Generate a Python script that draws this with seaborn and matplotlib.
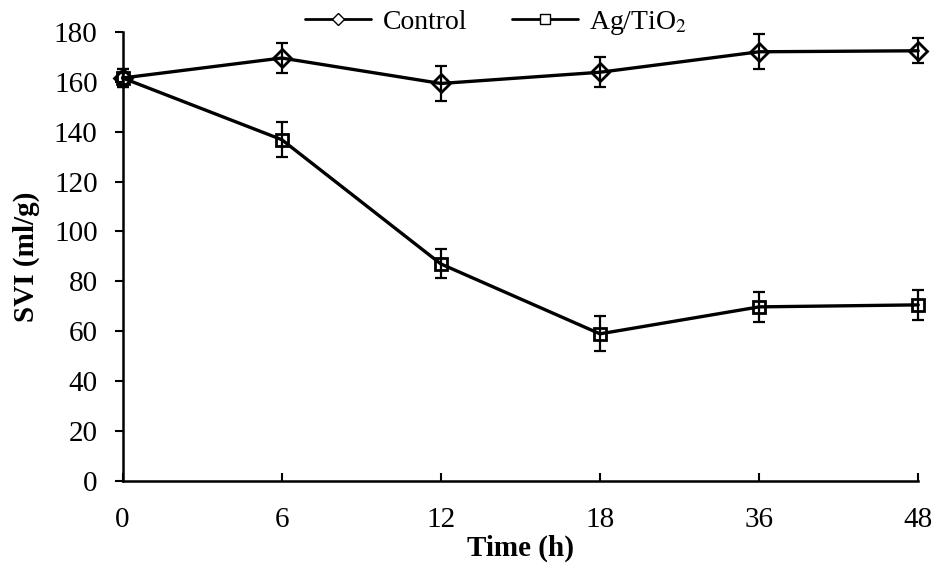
import numpy as np
import pandas as pd
import matplotlib
matplotlib.use("Agg")
import matplotlib.pyplot as plt
from matplotlib.lines import Line2D
import seaborn as sns

# data
time_labels = ["0", "6", "12", "18", "36", "48"]
control = [161.5, 169.5, 159.3, 163.8, 172.0, 172.4]
control_err = [3.5, 6.0, 7.0, 6.0, 7.0, 5.0]
agtio2 = [161.5, 136.8, 87.0, 59.0, 69.8, 70.6]
agtio2_err = [3.5, 7.0, 5.8, 7.0, 6.0, 6.0]

sns.set_theme(style="ticks")
plt.rcParams["font.family"] = ["Liberation Serif", "DejaVu Serif"]
plt.rcParams["mathtext.fontset"] = "stix"
for k in ["text.color", "axes.labelcolor", "xtick.color", "ytick.color"]:
    plt.rcParams[k] = "black"

pos = np.arange(len(time_labels))
df = pd.DataFrame({
    "pos": np.concatenate([pos, pos]),
    "SVI": control + agtio2,
    "err": control_err + agtio2_err,
    "group": ["Control"] * len(pos) + ["Ag/TiO$_2$"] * len(pos),
})

fig = plt.figure(figsize=(9.36, 5.68), dpi=100)
ax = fig.add_axes([0.131, 0.153, 0.85, 0.791])

sns.lineplot(data=df, x="pos", y="SVI", hue="group", style="group",
             palette=["black", "black"], markers={"Control": "D", "Ag/TiO$_2$": "s"},
             dashes=False, markersize=9, markerfacecolor="none",
             markeredgecolor="black", markeredgewidth=2,
             linewidth=2.4, legend=False, ax=ax, zorder=3, clip_on=False)

# error bars
for g in ["Control", "Ag/TiO$_2$"]:
    sub = df[df["group"] == g]
    ax.errorbar(sub["pos"], sub["SVI"], yerr=sub["err"], fmt="none",
                ecolor="black", elinewidth=1.6, capsize=4.5, capthick=1.6,
                zorder=2, clip_on=False)

ax.set_xlim(0, len(pos) - 1)
ax.set_ylim(0, 180)
ax.set_yticks(range(0, 181, 20))
ax.set_xticks(pos)
ax.set_xticklabels(time_labels)
ax.tick_params(axis="y", direction="out", length=6, width=1.5, labelsize=21, pad=12)
ax.tick_params(axis="x", direction="in", length=6, width=1.5, labelsize=21, pad=19)
for s in ["top", "right"]:
    ax.spines[s].set_visible(False)
for s in ["left", "bottom"]:
    ax.spines[s].set_linewidth(1.8)
    ax.spines[s].set_color("black")

ax.set_xlabel("Time (h)", fontsize=21, fontweight="bold", labelpad=1)
ax.set_ylabel("SVI (ml/g)", fontsize=21, fontweight="bold", labelpad=10)

handles = [
    Line2D([], [], color="black", lw=2, marker="D", markersize=6,
           markerfacecolor="white", markeredgewidth=1),
    Line2D([], [], color="black", lw=2, marker="s", markersize=7,
           markerfacecolor="white", markeredgewidth=1),
]
fig.legend(handles, ["Control", "Ag/TiO$_2$"], loc="upper center",
           bbox_to_anchor=(0.53, 1.028), ncol=2, frameon=False, fontsize=20,
           handlelength=2.4, columnspacing=1.6, handletextpad=0.4)

fig.savefig("out.png", dpi=100)
